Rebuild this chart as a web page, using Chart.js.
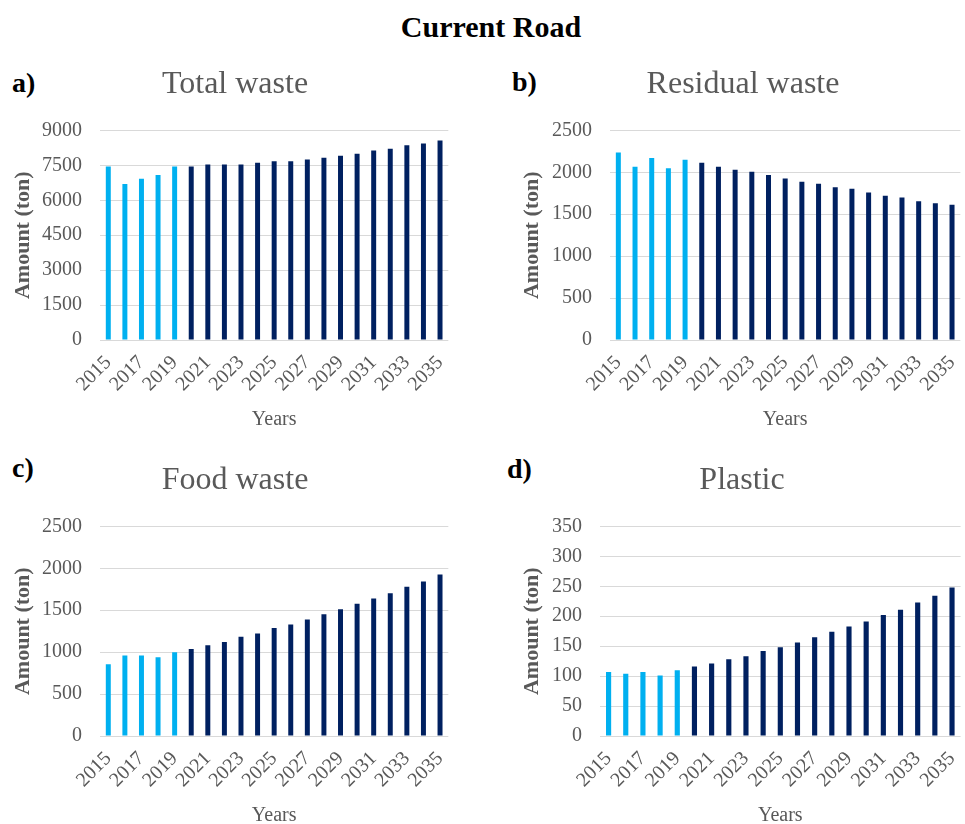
<!DOCTYPE html>
<html>
<head>
<meta charset="utf-8">
<title>Current Road</title>
<script src="https://cdn.jsdelivr.net/npm/chart.js@4.4.1/dist/chart.umd.min.js"></script>
<style>
  html, body { margin: 0; padding: 0; background: #fff; overflow: hidden; }
  body { width: 965px; height: 824px; position: relative; font-family: "Liberation Serif", "Times New Roman", serif; }
  .main-title { position: absolute; left: 0; width: 982px; top: 9px; text-align: center; font-size: 30px; line-height: 36px; font-weight: bold; color: #000; }
  .panel { position: absolute; font-size: 28px; line-height: 34px; font-weight: bold; color: #000; }
  canvas { position: absolute; }
</style>
</head>
<body>
<div class="main-title">Current Road</div>
<div class="panel" style="left:12px; top:66px;">a)</div>
<div class="panel" style="left:512px; top:65px;">b)</div>
<div class="panel" style="left:12px; top:451px;">c)</div>
<div class="panel" style="left:507px; top:452px;">d)</div>

<canvas id="totalChart" width="460" height="385" style="left:0px; top:50px;"></canvas>
<canvas id="residualChart" width="482" height="385" style="left:490px; top:50px;"></canvas>
<canvas id="foodChart" width="460" height="385" style="left:0px; top:446px;"></canvas>
<canvas id="plasticChart" width="482" height="385" style="left:490px; top:446px;"></canvas>

<script>
const years = ["2015", "2016", "2017", "2018", "2019", "2020", "2021", "2022", "2023", "2024", "2025",
  "2026", "2027", "2028", "2029", "2030", "2031", "2032", "2033", "2034", "2035"];

// last year with recorded data, later years are projections
const lastRecordedYear = 2019;

const totalWaste = [7450, 6700, 6920, 7080, 7450, 7450, 7540, 7540, 7540, 7610, 7680,
  7680, 7750, 7830, 7910, 8000, 8140, 8210, 8360, 8440, 8570];
const residualWaste = [2237, 2066, 2170, 2050, 2150, 2114, 2066, 2030, 2006, 1967, 1927,
  1887, 1863, 1823, 1803, 1760, 1720, 1700, 1656, 1632, 1612];
const foodWaste = [857, 960, 960, 940, 999, 1039, 1082, 1122, 1185, 1224, 1288,
  1331, 1390, 1453, 1513, 1576, 1639, 1702, 1781, 1844, 1927];
const plastic = [107, 104, 107, 101, 110, 116, 121, 128, 133, 142, 148,
  156, 165, 174, 183, 191, 202, 211, 223, 234, 248];

const recordedColor = "#00B0F0";
const projectedColor = "#002060";
const textGray = "#595959";
const serif = "'Liberation Serif', 'Times New Roman', serif";

const barColors = years.map(y => Number(y) <= lastRecordedYear ? recordedColor : projectedColor);

function makeChart(id, title, values, yMax, yStep, opts) {
  const ctx = document.getElementById(id).getContext("2d");
  return new Chart(ctx, {
    type: "bar",
    data: {
      labels: years,
      datasets: [{
        label: title,
        data: values,
        backgroundColor: barColors,
        categoryPercentage: 1,
        barPercentage: 0.3,
      }],
    },
    options: {
      responsive: false,
      animation: false,
      layout: { padding: { left: opts.padLeft, right: 0, top: 0, bottom: 0 } },
      plugins: {
        legend: { display: false },
        tooltip: { enabled: false },
        title: {
          display: true,
          text: title,
          color: textGray,
          font: { family: serif, size: 32, weight: "normal" },
          padding: { top: 15, bottom: 27 },
        },
      },
      scales: {
        x: {
          grid: { display: false },
          border: { display: false },
          afterFit: scale => { scale.height = 95; },
          ticks: {
            autoSkip: false,
            maxRotation: 45,
            minRotation: 45,
            padding: 3,
            color: textGray,
            font: { family: serif, size: 20 },
            callback: function (val, i) { return i % 2 === 0 ? this.getLabelForValue(val) : ""; },
          },
          title: {
            display: true,
            text: "Years",
            color: textGray,
            font: { family: serif, size: 20 },
            padding: { top: 0, bottom: 3 },
          },
        },
        y: {
          min: 0,
          max: yMax,
          border: { display: false },
          grid: { color: "#d9d9d9", lineWidth: 1, drawTicks: false },
          afterFit: scale => { scale.width = opts.yWidth; },
          ticks: {
            stepSize: yStep,
            padding: 18,
            color: textGray,
            font: { family: serif, size: 20 },
            callback: value => String(value),
          },
          title: {
            display: true,
            text: "Amount (ton)",
            color: textGray,
            font: { family: serif, size: 22, weight: "bold" },
            padding: { top: opts.titlePad, bottom: 0 },
          },
        },
      },
    },
  });
}

makeChart("totalChart", "Total waste", totalWaste, 9000, 1500, { padLeft: 10, yWidth: 90, titlePad: 0 });
makeChart("residualChart", "Residual waste", residualWaste, 2500, 500, { padLeft: 24, yWidth: 96, titlePad: 5 });
makeChart("foodChart", "Food waste", foodWaste, 2500, 500, { padLeft: 10, yWidth: 90, titlePad: 0 });
makeChart("plasticChart", "Plastic", plastic, 350, 50, { padLeft: 22, yWidth: 88, titlePad: 7 });
</script>
</body>
</html>
